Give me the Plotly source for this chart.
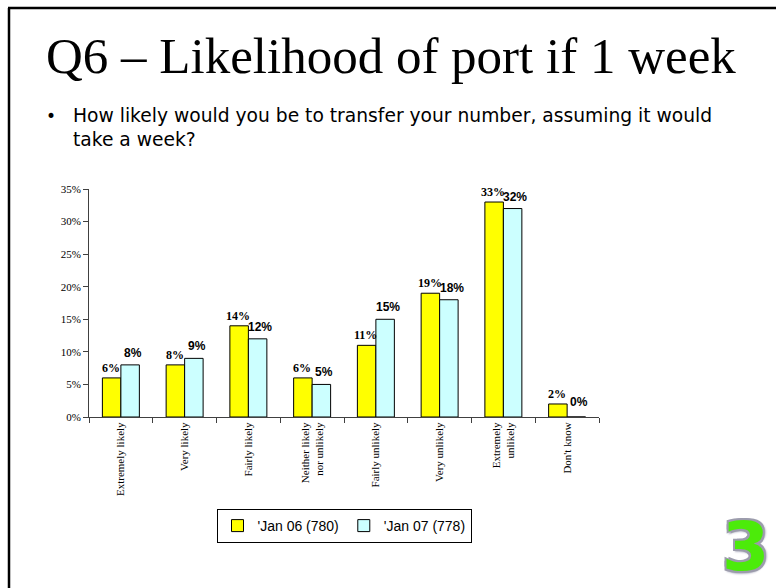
import plotly.graph_objects as go

# Survey answers and shares (%) for the two waves
categories = [
    "Extremely likely", "Very likely", "Fairly likely",
    "Neither likely<br>nor unlikely", "Fairly unlikely", "Very unlikely",
    "Extremely<br>unlikely", "Don't know",
]
jan06 = [6, 8, 14, 6, 11, 19, 33, 2]
jan07 = [8, 9, 12, 5, 15, 18, 32, 0]
series_names = ["'Jan 06 (780)", "'Jan 07 (778)"]
y_ticks = [0, 5, 10, 15, 20, 25, 30, 35]
y_tick_text = [f"{v}%" for v in y_ticks]

W, H = 776, 588
# plot area in page pixels
PX0, PX1 = 89, 599
PY0, PY1 = 189, 417


def xp(px):
    return (px - PX0) / (PX1 - PX0)


def yp(py):
    return (PY1 - py) / (PY1 - PY0)


fig = go.Figure()
fig.add_trace(go.Bar(
    x=categories, y=jan06, name=series_names[0],
    marker=dict(color="#FFFF00", line=dict(color="#000000", width=1)),
))
fig.add_trace(go.Bar(
    x=categories, y=jan07, name=series_names[1],
    marker=dict(color="#CCFFFF", line=dict(color="#000000", width=1)),
))

# value labels above each bar
for cat, v06, v07 in zip(categories, jan06, jan07):
    fig.add_annotation(
        x=cat, y=v06, text=f"{v06}%", xref="x", yref="y",
        xanchor="center", yanchor="bottom", xshift=-10, yshift=1, showarrow=False,
        font=dict(family="Liberation Serif", size=12, color="#000000", weight="bold"),
    )
    fig.add_annotation(
        x=cat, y=v07, text=f"{v07}%", xref="x", yref="y",
        xanchor="center", yanchor="bottom", xshift=12, yshift=3 if v07 else 6,
        showarrow=False,
        font=dict(family="Liberation Sans", size=12, color="#000000", weight="bold"),
    )

fig.update_layout(
    width=W, height=H,
    margin=dict(l=PX0, r=W - PX1, t=PY0, b=H - PY1, autoexpand=False),
    paper_bgcolor="white", plot_bgcolor="white",
    barmode="group", bargap=0.42, bargroupgap=0,
    showlegend=True,
    legend=dict(
        orientation="h", x=xp(344), y=yp(509), xanchor="center", yanchor="top",
        bordercolor="#000000", borderwidth=1, bgcolor="white",
        font=dict(family="Liberation Sans", size=14, color="#000000"),
        itemwidth=30, traceorder="normal",
    ),
    xaxis=dict(
        showline=True, linecolor="#404040", linewidth=1,
        ticks="outside", tickson="boundaries", ticklen=5, tickcolor="#404040",
        tickangle=-90, showgrid=False,
        tickfont=dict(family="Liberation Serif", size=11, color="#000000"),
    ),
    yaxis=dict(
        range=[0, 35], tickvals=y_ticks, ticktext=y_tick_text,
        showline=True, linecolor="#404040", linewidth=1,
        ticks="outside", ticklen=5, tickcolor="#404040", showgrid=False,
        zeroline=False,
        tickfont=dict(family="Liberation Serif", size=11, color="#000000"),
    ),
)

# slide frame
fig.add_shape(type="line", xref="paper", yref="paper",
              x0=xp(9), y0=yp(H + 2), x1=xp(9), y1=yp(8),
              line=dict(color="#000000", width=2.5))
fig.add_shape(type="line", xref="paper", yref="paper",
              x0=xp(8), y0=yp(8), x1=xp(W + 2), y1=yp(8),
              line=dict(color="#000000", width=2.5))

# slide title and question
fig.add_annotation(
    text="Q6 – Likelihood of port if 1 week", xref="paper", yref="paper",
    x=xp(44), y=yp(56), xanchor="left", yanchor="middle", showarrow=False,
    font=dict(family="Liberation Serif", size=51, color="#000000"),
)
fig.add_annotation(
    text="•", xref="paper", yref="paper",
    x=xp(44), y=yp(116), xanchor="left", yanchor="middle", showarrow=False,
    font=dict(family="DejaVu Sans", size=17, color="#000000"),
)
fig.add_annotation(
    text="How likely would you be to transfer your number, assuming it would<br>take a week?",
    xref="paper", yref="paper", x=xp(71), y=yp(103), xanchor="left", yanchor="top",
    align="left", showarrow=False,
    font=dict(family="DejaVu Sans", size=18.7, color="#000000"),
)

# "3" logo: green glyph with a silver rim drawn as a text shadow
fig.add_annotation(
    text="<b>3</b>", xref="paper", yref="paper", x=xp(745), y=yp(546),
    xanchor="center", yanchor="middle", showarrow=False,
    font=dict(
        family="DejaVu Sans", size=68, color="#4CEB0A",
        shadow=("-2px -2px 0px #9C9CAC, 2px -2px 0px #9C9CAC, -2px 2px 0px #9C9CAC, "
                "2px 2px 0px #9C9CAC, 0px 3px 2px #B4B4C4, 3px 0px 2px #B4B4C4"),
    ),
)

fig.write_html("out.html")
